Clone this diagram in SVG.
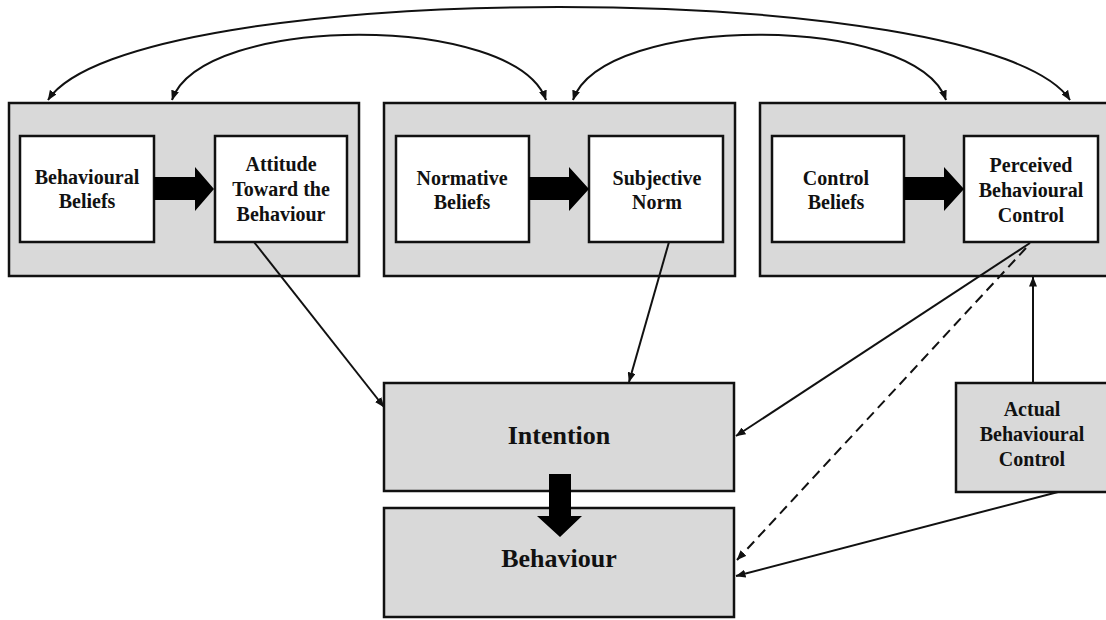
<svg xmlns="http://www.w3.org/2000/svg" width="1106" height="620" viewBox="0 0 1106 620">
  <style>
    .panel { fill: #d9d9d9; stroke: #111; stroke-width: 2.5; }
    .inner { fill: #ffffff; stroke: #111; stroke-width: 2.5; }
    .lbl { font-family: "Liberation Serif", "Times New Roman", serif; font-weight: bold; font-size: 20px; fill: #111; text-anchor: middle; }
    .big { font-size: 26px; }
    .link { fill: none; stroke: #111; stroke-width: 2; }
    .dash { stroke-dasharray: 10 6; }
    .fat { fill: #000; }
  </style>
  <defs>
    <marker id="head" markerUnits="userSpaceOnUse" markerWidth="10" markerHeight="8" refX="9.5" refY="4" orient="auto-start-reverse">
      <path d="M0,0 L10,4 L0,8 z" fill="#111"/>
    </marker>
  </defs>

  <rect width="1106" height="620" fill="#ffffff"/>

  <!-- Attitude panel -->
  <g id="panel-attitude">
    <rect class="panel" x="9" y="103" width="350" height="173"/>
  </g>
  <g id="behavioural-beliefs">
    <rect class="inner" x="20" y="136" width="134" height="106"/>
    <text class="lbl" x="87" y="184">Behavioural</text>
    <text class="lbl" x="87" y="208">Beliefs</text>
  </g>
  <g id="attitude">
    <rect class="inner" x="215" y="136" width="132" height="106"/>
    <text class="lbl" x="281" y="171">Attitude</text>
    <text class="lbl" x="281" y="196">Toward the</text>
    <text class="lbl" x="281" y="221">Behaviour</text>
  </g>

  <!-- Norm panel -->
  <g id="panel-norm">
    <rect class="panel" x="384" y="103" width="351" height="173"/>
  </g>
  <g id="normative-beliefs">
    <rect class="inner" x="396" y="136" width="133" height="106"/>
    <text class="lbl" x="462" y="185">Normative</text>
    <text class="lbl" x="462" y="209">Beliefs</text>
  </g>
  <g id="subjective-norm">
    <rect class="inner" x="589" y="136" width="134" height="106"/>
    <text class="lbl" x="657" y="185">Subjective</text>
    <text class="lbl" x="657" y="209">Norm</text>
  </g>

  <!-- Control panel -->
  <g id="panel-control">
    <rect class="panel" x="760" y="103" width="350" height="173"/>
  </g>
  <g id="control-beliefs">
    <rect class="inner" x="772" y="136" width="132" height="106"/>
    <text class="lbl" x="836" y="185">Control</text>
    <text class="lbl" x="836" y="209">Beliefs</text>
  </g>
  <g id="perceived-control">
    <rect class="inner" x="964" y="136" width="134" height="106"/>
    <text class="lbl" x="1031" y="172">Perceived</text>
    <text class="lbl" x="1031" y="197">Behavioural</text>
    <text class="lbl" x="1031" y="222">Control</text>
  </g>

  <!-- Outcome boxes -->
  <g id="intention">
    <rect class="panel" x="384" y="383" width="350" height="108"/>
    <text class="lbl big" x="559" y="444">Intention</text>
  </g>
  <g id="behaviour">
    <rect class="panel" x="384" y="508" width="350" height="109"/>
    <text class="lbl big" x="559" y="567">Behaviour</text>
  </g>
  <g id="actual-control">
    <rect class="panel" x="956" y="383" width="154" height="109"/>
    <text class="lbl" x="1032" y="416">Actual</text>
    <text class="lbl" x="1032" y="441">Behavioural</text>
    <text class="lbl" x="1032" y="466">Control</text>
  </g>

  <!-- Connectors -->
  <g id="connectors">
    <!-- block arrows -->
    <path class="fat" d="M154,177 H195 V167 L214,189 L195,211 V200 H154 z"/>
    <path class="fat" d="M529,177 H569 V167 L589,189 L569,211 V200 H529 z"/>
    <path class="fat" d="M904,177 H944 V167 L964,189 L944,211 V200 H904 z"/>
    <path class="fat" d="M549,474 H571 V516 H582 L560,537 L537,516 H549 z"/>

    <!-- correlations between the belief groups -->
    <path class="link" d="M48,100 C130,-24 988,-24 1070,100" marker-start="url(#head)" marker-end="url(#head)"/>
    <path class="link" d="M172,100 C202,13 516,13 546,100" marker-start="url(#head)" marker-end="url(#head)"/>
    <path class="link" d="M573,100 C603,13 916,13 946,100" marker-start="url(#head)" marker-end="url(#head)"/>

    <!-- influences on intention -->
    <line class="link" x1="254" y1="242" x2="384" y2="407" marker-end="url(#head)"/>
    <line class="link" x1="669" y1="242" x2="629" y2="382" marker-end="url(#head)"/>
    <line class="link" x1="1030" y1="243" x2="736" y2="436" marker-end="url(#head)"/>

    <!-- control paths to behaviour -->
    <line class="link dash" x1="1026" y1="248" x2="737" y2="560" marker-end="url(#head)"/>
    <line class="link" x1="1058" y1="492" x2="736" y2="576" marker-end="url(#head)"/>
    <line class="link" x1="1033" y1="383" x2="1033" y2="277" marker-end="url(#head)"/>
  </g>
</svg>
